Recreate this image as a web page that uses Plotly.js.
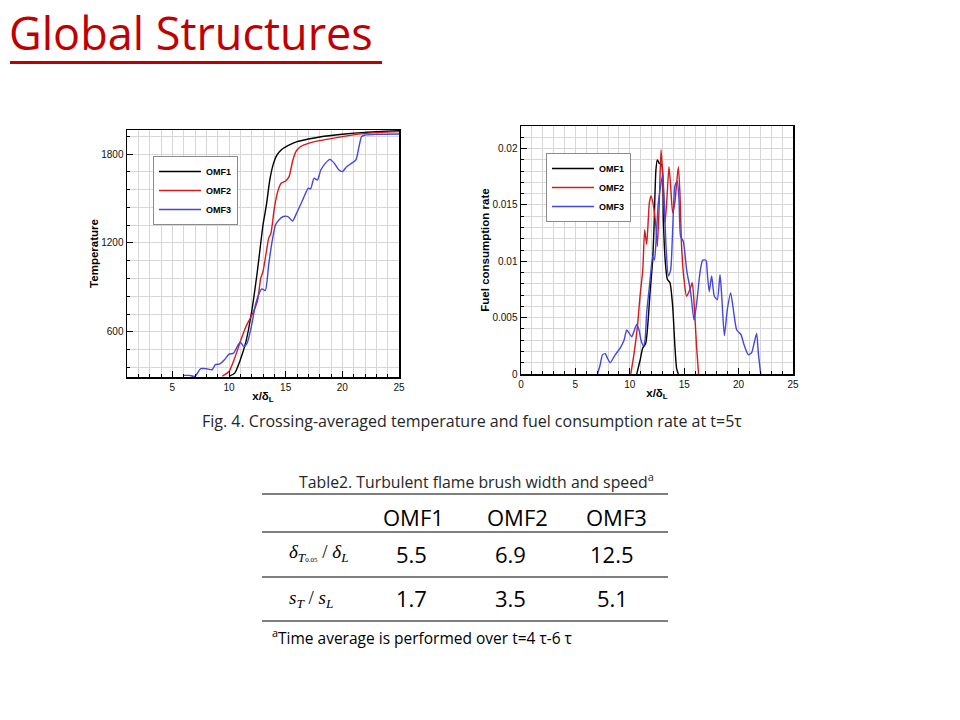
<!DOCTYPE html>
<html>
<head>
<meta charset="utf-8">
<script src="https://cdn.plot.ly/plotly-3.0.1.min.js"></script>
<style>
html,body{margin:0;padding:0;background:#fff;}
#chart{width:960px;height:720px;}
</style>
</head>
<body>
<div id="chart"></div>
<script>
// ---------- data ----------
var seriesNames = ["OMF1", "OMF2", "OMF3"];

// Temperature vs x/deltaL
var tempX1 = [10.0,10.5,11,11.5,12,12.5,13,13.3,13.6,13.9,14.2,14.6,15.2,16,17,18,20,22,25];
var tempY1 = [300,321,411,535,737,1007,1321,1456,1625,1730,1789,1827,1856,1883,1901,1915,1933,1946,1957];
var tempX2 = [9.4,10,10.5,11,11.5,12,12.5,12.8,13,13.3,13.5,13.7,14,14.3,14.6,15,15.3,15.6,15.9,16.3,17,18,20,22,25];
var tempY2 = [300,332,422,535,636,710,804,962,1007,1142,1231,1265,1434,1546,1602,1618,1647,1748,1816,1849,1872,1890,1917,1939,1951];
var tempX3 = [6.0,6.5,7,7.5,8,8.5,8.8,9.2,9.6,10,10.4,10.8,11,11.3,11.6,12,12.3,12.6,12.9,13.2,13.5,13.8,14.1,14.4,14.8,15.2,15.6,16,16.5,17,17.2,17.5,17.8,18.1,18.5,18.9,19.3,19.7,20,20.4,20.8,21.2,21.5,21.7,22,23,25];
var tempY3 = [306,306,300,351,351,344,378,384,411,449,456,512,530,501,524,647,771,849,890,879,1052,1209,1321,1355,1378,1378,1348,1407,1490,1569,1564,1636,1625,1692,1737,1764,1737,1692,1681,1715,1737,1760,1861,1917,1928,1933,1935];

// Fuel consumption rate vs x/deltaL
var fuelX1 = [10.64,10.94,11.19,11.46,11.64,11.86,12.1,12.22,12.4,12.53,12.7,12.93,13.08,13.23,13.45,13.69,13.94,14.15,14.3,14.46];
var fuelY1 = [0,0.0012,0.0023,0.0027,0.0042,0.0072,0.0101,0.0128,0.0181,0.019,0.0187,0.0186,0.0137,0.0104,0.0084,0.0081,0.006,0.0024,0.0005,0];
var fuelX2 = [10.09,10.39,10.7,10.94,11.19,11.37,11.55,11.8,11.95,12.16,12.4,12.53,12.71,12.87,13.02,13.23,13.39,13.6,13.75,13.94,14.15,14.46,14.61,14.76,14.98,15.22,15.53,15.74,15.89,16.14,16.32];
var fuelY2 = [0,0.0018,0.0042,0.0069,0.0092,0.0128,0.0115,0.0152,0.0158,0.015,0.0131,0.0113,0.0152,0.0199,0.0178,0.0134,0.0152,0.0184,0.0167,0.0143,0.0153,0.0184,0.016,0.0113,0.0084,0.0069,0.0075,0.0081,0.0066,0.0024,0];
var fuelX3 = [7.03,7.27,7.49,7.73,7.95,8.19,8.65,9.11,9.47,9.72,9.96,10.18,10.39,10.64,10.85,11.03,11.25,11.4,11.55,11.77,11.92,12.1,12.26,12.4,12.62,12.84,13.02,13.17,13.33,13.54,13.75,13.94,14.15,14.36,14.52,14.67,14.91,15.23,15.6,15.9,16.15,16.45,16.7,17.0,17.12,17.3,17.52,17.77,18.04,18.29,18.45,18.69,18.96,19.27,19.52,19.83,20.22,20.5,20.9,21.2,21.42,21.66,21.81,22.03];
var fuelY3 = [0,0.0008,0.0017,0.0018,0.0014,0.001,0.0017,0.0023,0.003,0.0039,0.0036,0.0033,0.0038,0.0044,0.0039,0.003,0.0025,0.003,0.0054,0.0075,0.0089,0.0104,0.0101,0.0116,0.0152,0.0167,0.0177,0.0152,0.0113,0.0087,0.0092,0.0128,0.0167,0.0171,0.0155,0.0122,0.0118,0.0092,0.0072,0.0048,0.0063,0.009,0.0101,0.0101,0.009,0.0073,0.0087,0.0069,0.0066,0.0088,0.0069,0.0034,0.0057,0.0072,0.0057,0.0039,0.0035,0.0026,0.0017,0.0019,0.0027,0.0036,0.0019,0];

// Table 2
var tableCols = ["OMF1", "OMF2", "OMF3"];
var tableRowLabels = [
  "<i>δ</i><sub><i>T</i><span style=\"font-size:7px\">0.05</span></sub> / <i>δ</i><sub><i>L</i></sub>",
  "<i>s</i><sub><i>T</i></sub> / <i>s</i><sub><i>L</i></sub>"
];
var tableBrushWidth = ["5.5", "6.9", "12.5"];
var tableSpeed = ["1.7", "3.5", "5.1"];

var slideTitle = "Global Structures";
var figCaption = "Fig. 4. Crossing-averaged temperature and fuel consumption rate at t=5τ";
var tableTitle = "Table2. Turbulent flame brush width and speed<sup>a</sup>";
var tableNote = "<sup>a</sup>Time average is performed over t=4 τ-6 τ";

// ---------- styling ----------
var W = 960, H = 720;
function px(x) { return x / W; }
function py(y) { return 1 - y / H; }
var colors = ["#000000", "#d41a1a", "#4545e0"];
var gridC = "#d6d6d6";
var tickFont = {family: "Arial, Liberation Sans, sans-serif", size: 10, color: "#111"};
var boldFont = {family: "Arial, Liberation Sans, sans-serif", size: 11.5, color: "#000"};

function axis(opts) {
  return {
    domain: opts.domain, range: opts.range, dtick: opts.dtick, tick0: 0,
    ticks: "inside", ticklen: 6, tickwidth: 1, tickcolor: "#000",
    showgrid: true, gridcolor: gridC, gridwidth: 1,
    minor: {dtick: opts.minor, ticks: "inside", ticklen: 3, tickcolor: "#000", showgrid: true, gridcolor: gridC, gridwidth: 1},
    showline: true, linecolor: "#000", linewidth: 1.5, mirror: true,
    zeroline: false, tickfont: tickFont, anchor: opts.anchor,
    title: {text: opts.title, font: boldFont, standoff: opts.standoff}
  };
}

var xs = [[tempX1, tempX2, tempX3], [fuelX1, fuelX2, fuelX3]];
var ys = [[tempY1, tempY2, tempY3], [fuelY1, fuelY2, fuelY3]];
var traces = [];
for (var p = 0; p < 2; p++) {
  for (var s = 0; s < 3; s++) {
    traces.push({
      type: "scatter", mode: "lines",
      x: xs[p][s], y: ys[p][s], name: seriesNames[s],
      line: {color: colors[s], width: 1.4, shape: "spline", smoothing: 0.6},
      xaxis: p === 0 ? "x" : "x2", yaxis: p === 0 ? "y" : "y2",
      legend: p === 0 ? "legend" : "legend2",
      hoverinfo: "skip"
    });
  }
}

function legendAt(x, y) {
  return {
    x: px(x), y: py(y), xanchor: "left", yanchor: "top",
    bgcolor: "#fff", bordercolor: "#8c8c8c", borderwidth: 1,
    itemwidth: 42,
    font: {family: "Arial, Liberation Sans, sans-serif", size: 9, color: "#000", weight: "bold"},
    tracegroupgap: 0, itemclick: false, itemdoubleclick: false
  };
}

var ann = [];
function note(text, x, y, font, xanchor, yanchor) {
  ann.push({text: text, x: px(x), y: py(y), xref: "paper", yref: "paper",
    xanchor: xanchor || "center", yanchor: yanchor || "middle", showarrow: false, font: font});
}
var sans = "Open Sans, Noto Sans, sans-serif";
note(slideTitle, 7, 33, {family: sans, size: 45, color: "#c00000"}, "left");
note(figCaption, 472, 421, {family: sans, size: 16, color: "#262626"});
note(tableTitle, 476, 481, {family: sans, size: 15.8, color: "#262626"});
var colX = [413, 517, 616];
var valX = [411, 510, 612];
for (var c = 0; c < 3; c++) {
  note(tableCols[c], colX[c], 517, {family: sans, size: 22, color: "#000"});
  note(tableBrushWidth[c], valX[c], 554, {family: sans, size: 22, color: "#000"});
  note(tableSpeed[c], valX[c], 598, {family: sans, size: 22, color: "#000"});
}
var serif = "Liberation Serif, Times New Roman, serif";
note(tableRowLabels[0], 287, 553, {family: serif, size: 19, color: "#000"}, "left");
note(tableRowLabels[1], 287, 599, {family: serif, size: 19, color: "#000"}, "left");
note(tableNote, 270, 637, {family: sans, size: 15.5, color: "#000"}, "left");

var shapes = [
  {type: "line", xref: "paper", yref: "paper", x0: px(10), x1: px(382), y0: py(62.5), y1: py(62.5), line: {color: "#c00000", width: 3}}
];
var tableLines = [494, 532, 577, 621];
tableLines.forEach(function (yy) {
  shapes.push({type: "line", xref: "paper", yref: "paper", x0: px(262), x1: px(668), y0: py(yy), y1: py(yy), line: {color: "#7f7f7f", width: 2}});
});

var layout = {
  width: W, height: H, margin: {l: 0, r: 0, t: 0, b: 0},
  paper_bgcolor: "#fff", plot_bgcolor: "#fff",
  showlegend: true,
  xaxis: axis({domain: [px(127), px(399)], range: [1, 25], dtick: 5, minor: 1, anchor: "y", title: "<b>x/δ<sub>L</sub></b>", standoff: 0}),
  yaxis: axis({domain: [py(377), py(130)], range: [295, 1962], dtick: 600, minor: 120, anchor: "x", title: "<b>Temperature</b>", standoff: 0}),
  xaxis2: axis({domain: [px(521), px(793)], range: [0, 25], dtick: 5, minor: 1, anchor: "y2", title: "<b>x/δ<sub>L</sub></b>", standoff: 0}),
  yaxis2: axis({domain: [py(374), py(126)], range: [0, 0.022], dtick: 0.005, minor: 0.001, anchor: "x2", title: "<b>Fuel consumption rate</b>", standoff: 0}),
  legend: legendAt(153, 156),
  legend2: legendAt(546, 153),
  annotations: ann,
  shapes: shapes
};

Plotly.newPlot("chart", traces, layout, {displayModeBar: false, staticPlot: true});
</script>
</body>
</html>
